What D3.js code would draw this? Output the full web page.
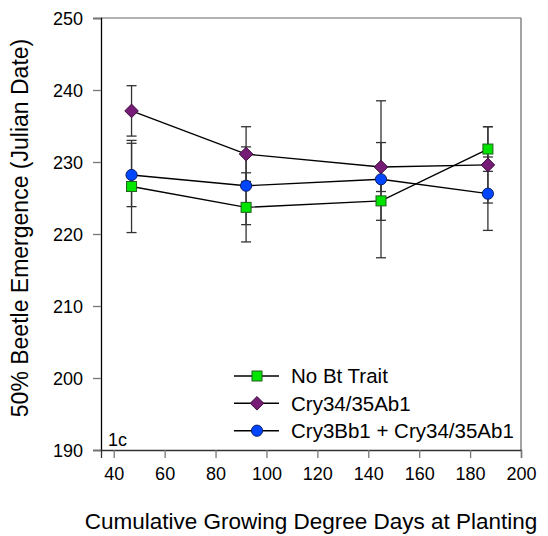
<!DOCTYPE html>
<html>
<head>
<meta charset="utf-8">
<script src="https://cdn.jsdelivr.net/npm/d3@7/dist/d3.min.js"></script>
<style>
  html, body { margin: 0; padding: 0; background: #fff; }
  svg text { font-family: Arial, "Liberation Sans", sans-serif; fill: #000; }
</style>
</head>
<body>
<svg id="chart" width="548" height="536"></svg>
<script>
// ---- data ----
const days = [47, 92, 145, 187];
const seriesNames = ["No Bt Trait", "Cry34/35Ab1", "Cry3Bb1 + Cry34/35Ab1"];
const noBt = [226.6, 223.7, 224.6, 231.8];
const noBtErr = [6.4, 4.8, 2.7, 3.1];
const cry34 = [237.1, 231.1, 229.3, 229.6];
const cry34Err = [3.5, 3.8, 3.4, 5.3];
const cry3Bb1 = [228.2, 226.7, 227.6, 225.6];
const cry3Bb1Err = [4.4, 5.4, 10.9, 5.1];
const xTicks = [40, 60, 80, 100, 120, 140, 160, 180, 200];
const yTicks = [190, 200, 210, 220, 230, 240, 250];
const panelLabel = "1c";

// ---- layout ----
const svg = d3.select("#chart");
const L = 101, R = 521, T = 18, B = 450;
const x = d3.scaleLinear().domain([35, 200]).range([L, R]);
const y = d3.scaleLinear().domain([190, 250]).range([B, T]);

const series = [
  { name: seriesNames[0], vals: noBt, err: noBtErr, shape: "square", fill: "#00E400", stroke: "#1f5f1f" },
  { name: seriesNames[1], vals: cry34, err: cry34Err, shape: "diamond", fill: "#761C76", stroke: "#3a0e3a" },
  { name: seriesNames[2], vals: cry3Bb1, err: cry3Bb1Err, shape: "circle", fill: "#0046FF", stroke: "#10206a" }
];

// frame (top/right)
svg.append("line").attr("x1", L).attr("x2", R).attr("y1", T).attr("y2", T).attr("stroke", "#666").attr("stroke-width", 1.2);
svg.append("line").attr("x1", R).attr("x2", R).attr("y1", T).attr("y2", B).attr("stroke", "#666").attr("stroke-width", 1.2);

// axes
const yAxis = d3.axisLeft(y).tickValues(yTicks).tickSize(8).tickPadding(10).tickFormat(d3.format("d"));
const gy = svg.append("g").attr("transform", `translate(${L},0)`).call(yAxis);
gy.select(".domain").attr("stroke", "#000").attr("stroke-width", 1.3);
gy.selectAll(".tick line").attr("stroke", "#777").attr("stroke-width", 1.3);
gy.selectAll(".tick text").style("font-size", "18px").attr("dy", "0.35em");

const xAxis = d3.axisBottom(x).tickValues(xTicks).tickSize(8).tickPadding(9).tickFormat(d3.format("d"));
const gx = svg.append("g").attr("transform", `translate(0,${B})`).call(xAxis);
gx.select(".domain").attr("stroke", "#333").attr("stroke-width", 1.3);
gx.selectAll(".tick line").attr("stroke", "#777").attr("stroke-width", 1.3);
gx.selectAll(".tick text").style("font-size", "18px");

// axis titles
svg.append("text").attr("x", 311).attr("y", 529).attr("text-anchor", "middle")
  .style("font-size", "22.5px").text("Cumulative Growing Degree Days at Planting");
svg.append("text").attr("transform", `translate(28,${(T + B) / 2 - 6}) rotate(-90)`)
  .attr("text-anchor", "middle").style("font-size", "23px")
  .text("50% Beetle Emergence (Julian Date)");

// panel label
svg.append("text").attr("x", 108).attr("y", 446).style("font-size", "18px").text(panelLabel);

function drawMarker(g, shape, cx, cy, fill, stroke) {
  if (shape === "square") {
    g.append("rect").attr("x", cx - 5).attr("y", cy - 5).attr("width", 10).attr("height", 10)
      .attr("fill", fill).attr("stroke", stroke).attr("stroke-width", 1);
  } else if (shape === "diamond") {
    const s = 6.8;
    g.append("path").attr("d", `M${cx},${cy - s}L${cx + s},${cy}L${cx},${cy + s}L${cx - s},${cy}Z`)
      .attr("fill", fill).attr("stroke", stroke).attr("stroke-width", 1);
  } else {
    g.append("circle").attr("cx", cx).attr("cy", cy).attr("r", 5.6)
      .attr("fill", fill).attr("stroke", stroke).attr("stroke-width", 1);
  }
}

// error bars
const eg = svg.append("g");
series.forEach(s => {
  s.vals.forEach((v, i) => {
    const cx = x(days[i]);
    const y1 = y(v + s.err[i]), y2 = y(v - s.err[i]);
    eg.append("line").attr("x1", cx).attr("x2", cx).attr("y1", y1).attr("y2", y2).attr("stroke", "#333").attr("stroke-width", 1.3);
    [y1, y2].forEach(yy => eg.append("line").attr("x1", cx - 5).attr("x2", cx + 5).attr("y1", yy).attr("y2", yy)
      .attr("stroke", "#333").attr("stroke-width", 1.3));
  });
});

// lines
const line = d3.line().x((d, i) => x(days[i])).y(d => y(d));
series.forEach(s => {
  svg.append("path").attr("d", line(s.vals)).attr("fill", "none").attr("stroke", "#000").attr("stroke-width", 1.4);
});

// markers
series.forEach(s => {
  const g = svg.append("g");
  s.vals.forEach((v, i) => drawMarker(g, s.shape, x(days[i]), y(v), s.fill, s.stroke));
});

// legend
const legY = [376, 403.3, 430.7];
series.forEach((s, i) => {
  const g = svg.append("g");
  g.append("line").attr("x1", 234).attr("x2", 279).attr("y1", legY[i]).attr("y2", legY[i]).attr("stroke", "#000").attr("stroke-width", 1.4);
  drawMarker(g, s.shape, 257, legY[i], s.fill, s.stroke);
  g.append("text").attr("x", 291).attr("y", legY[i]).attr("dy", "0.36em").style("font-size", "20.5px").text(s.name);
});
</script>
</body>
</html>
